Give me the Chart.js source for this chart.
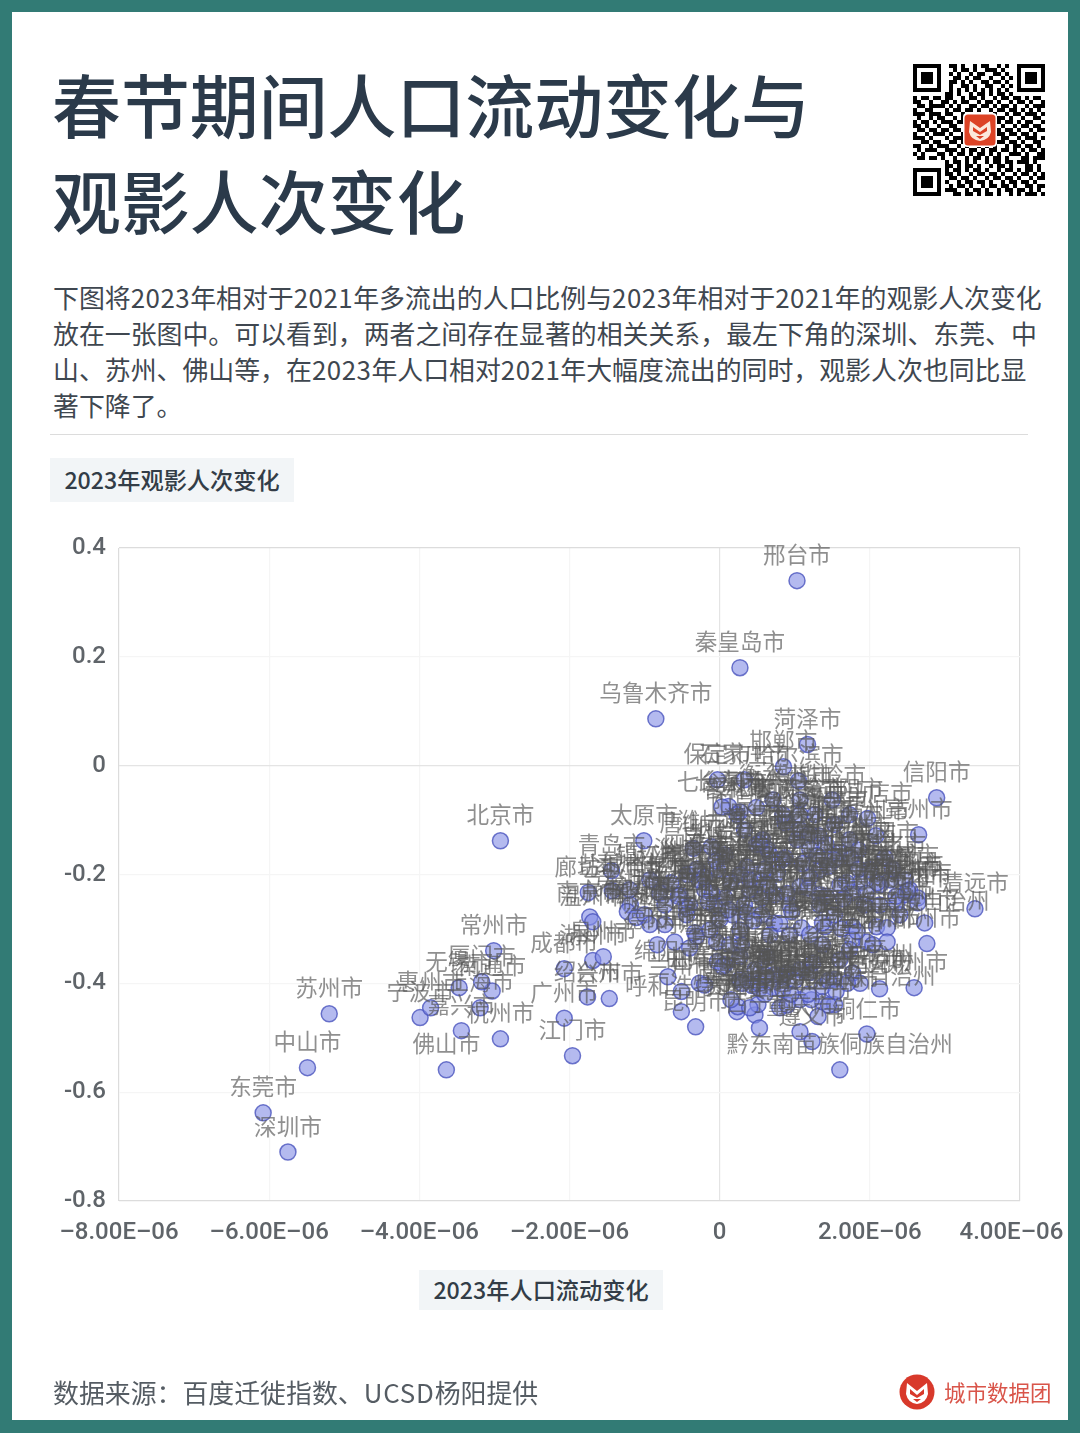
<!DOCTYPE html>
<html lang="zh">
<head>
<meta charset="utf-8">
<title>春节期间人口流动变化与观影人次变化</title>
<script src="https://cdn.jsdelivr.net/npm/chart.js@4/dist/chart.umd.min.js"></script>
<style>
html,body{margin:0;padding:0;background:#327b75;}
body{width:1080px;height:1433px;position:relative;overflow:hidden;font-family:"Noto Sans CJK SC","Noto Sans",sans-serif;}
#panel{position:absolute;left:12px;top:12px;width:1056px;height:1408px;background:#fff;}
.abs{position:absolute;white-space:nowrap;}
.title{left:52px;font-size:68.9px;line-height:96px;color:#2b3a4a;font-weight:500;}
.body{left:53px;font-size:25.9px;line-height:36px;color:#3f4750;}
.num{letter-spacing:.5px;}
.tag{background:#f2f5f7;color:#333d47;font-size:23.2px;font-weight:500;text-align:center;}
#rule{left:50px;top:434px;width:978px;height:1px;background:#dcdcdc;}
#chartWrap{position:absolute;left:0;top:0;width:1080px;height:1433px;}
</style>
</head>
<body>
<div id="panel"></div>
<div class="abs title" style="top:55px">春节期间人口流动变化与</div>
<div class="abs title" style="top:151px">观影人次变化</div>
<div class="abs body" style="top:279px">下图将<span class="num">2023</span>年相对于<span class="num">2021</span>年多流出的人口比例与<span class="num">2023</span>年相对于<span class="num">2021</span>年的观影人次变化</div>
<div class="abs body" style="top:315px">放在一张图中。可以看到，两者之间存在显著的相关关系，最左下角的深圳、东莞、中</div>
<div class="abs body" style="top:351px">山、苏州、佛山等，在<span class="num">2023</span>年人口相对<span class="num">2021</span>年大幅度流出的同时，观影人次也同比显</div>
<div class="abs body" style="top:387px">著下降了。</div>
<div class="abs" id="rule"></div>
<div class="abs tag" style="left:50px;top:458px;width:244px;height:44px;line-height:43px">2023年观影人次变化</div>
<div id="chartWrap"><canvas id="c" width="1080" height="1433"></canvas></div>
<div class="abs tag" style="left:419px;top:1270px;width:244px;height:40px;line-height:39px">2023年人口流动变化</div>
<div class="abs body" style="top:1374px;color:#555c63">数据来源：百度迁徙指数、<span style="letter-spacing:.8px">UCSD</span>杨阳提供</div>
<svg class="abs" style="left:899px;top:1374px" width="36" height="36" viewBox="0 0 36 36">
  <circle cx="18" cy="18" r="17.5" fill="#d8392b"/>
  <path d="M8 9 L18 17 L28 9 L29 20 Q27 29 18 30 Q9 29 7 20 Z" fill="#fff"/>
  <path d="M11 15 L18 21 L25 15 L25 20 L18 24 L11 20 Z M14 25 H22 L18 28 Z" fill="#d8392b"/>
</svg>
<div class="abs" style="left:944px;top:1377px;font-size:21.5px;line-height:30px;color:#d9554a">城市数据团</div>
<svg class="abs" id="qr" style="left:913px;top:64px" width="132" height="132" viewBox="0 0 33 33" shape-rendering="crispEdges"></svg>
<svg class="abs" style="left:963px;top:113px" width="34" height="34" viewBox="0 0 34 34">
  <rect x="0" y="0" width="34" height="34" rx="4" fill="#fff"/>
  <rect x="1.5" y="1.5" width="31" height="31" rx="3.5" fill="#dc4326"/>
  <path d="M7 8 L17 15 L27 8 L28 19 Q26 27 17 28 Q8 27 6 19 Z" fill="#fbe9dc"/>
  <path d="M10 14 L17 19 L24 14 L24 18 L17 22 L10 18 Z M13 23 H21 L17 26 Z" fill="#dc4326"/>
</svg>
<script>
const cities = [
"深圳市","东莞市","中山市","苏州市","佛山市","杭州市","嘉兴市","宁波市","惠州市","无锡市",
"上海市","南通市","厦门市","常州市","北京市","成都市","广州市","江门市","绍兴市","台州市",
"湖州市","泉州市","廊坊市","南京市","温州市","青岛市","太原市","乌鲁木齐市","秦皇岛市","邢台市",
"合肥市","淄博市","唐山市","潍坊市","保定市","哈尔滨市","邯郸市","菏泽市","石家庄市","信阳市",
"长春市","七台河市","绥化市","长治市","吉林市","沧州市","衡水市","德州市","聊城市","濮阳市",
"商丘市","周口市","漯河市","开封市","许昌市","安阳市","新乡市","焦作市","鹤壁市","晋城市",
"临汾市","驻马店市","宿州市","亳州市","黄冈市","孝感市","荆州市","襄阳市","咸宁市","运城市",
"大庆市","枣庄市","邵阳市","永州市","怀化市","衡阳市","清远市","阳泉市","泰安市","济宁市",
"临沂市","日照市","烟台市","威海市","东营市","滨州市","蚌埠市","淮南市","徐州市","扬州市",
"镇江市","泰州市","盐城市","淮安市","连云港市","宿迁市","朝阳市","锦州市","盘锦市","营口市",
"丹东市","鞍山市","沈阳市","大连市","抚顺市","本溪市","辽阳市","铁岭市","葫芦岛市","芜湖市",
"马鞍山市","铜陵市","宣城市","九江市","南昌市","景德镇市","上饶市","德阳市","乐山市","内江市",
"自贡市","南充市","遂宁市","宜宾市","泸州市","达州市","广安市","资阳市","眉山市","南宁市",
"桂林市","黔南布依族苗族自治州","湘潭市","株洲市","岳阳市","常德市","益阳市","贺州市","郴州市","柳州市",
"娄底市","吉安市","抚州市","赣州市","宜春市","新余市","鹰潭市","萍乡市","十堰市","随州市",
"鄂州市","黄石市","宜昌市","安庆市","六安市","池州市","滁州市","阜阳市","绵阳市","兰州市",
"呼和浩特市","昆明市","贵阳市","西安市","银川市","西宁市","重庆市","遵义市","毕节市","恩施土家族苗族自治州",
"六盘水市","铜仁市","黔东南苗族侗族自治州","安顺市","曲靖市","玉溪市","昭通市","凉山彝族自治州","攀枝花市","广元市",
"巴中市","雅安市","汉中市","安康市","商洛市","渭南市","宝鸡市","咸阳市","榆林市","延安市",
"荆门市","黄山市","百色市","河池市","贵港市","玉林市","梧州市","钦州市","北海市","茂名市",
"四平市","松原市","白城市","通化市","白山市","辽源市","牡丹江市","佳木斯市","大同市","朔州市",
"忻州市","吕梁市","晋中市","南阳市","平顶山市","三门峡市","洛阳市","济源市","莱芜市","鸡西市",
"鹤岗市","黑河市","齐齐哈尔市","承德市","张家口市","呼伦贝尔市","通辽市","赤峰市","包头市","鄂尔多斯市",
"乌海市","巴彦淖尔市","乌兰察布市","三亚市","海口市","福州市","莆田市","龙岩市","三明市","南平市",
"宁德市","漳州市","汕头市","潮州市","揭阳市","韶关市","河源市","梅州市","汕尾市","阳江市"
];
// 2023 population-flow change, in units of 1E-06
const popChangeMicro = [
-5.75,-6.08,-5.49,-5.20,-3.64,-2.92,-3.44,-3.99,-3.85,-3.47,
-3.19,-3.03,-3.17,-3.01,-2.92,-2.07,-2.07,-1.96,-1.76,-1.47,
-1.69,-1.55,-1.75,-1.73,-1.69,-1.44,-1.01,-0.85,0.27,1.03,
-0.80,-0.43,-0.35,-0.11,-0.03,1.05,0.85,1.17,0.33,2.89,
0.12,0.03,0.27,0.49,0.23,0.87,0.71,1.07,0.84,1.32,
1.03,0.57,0.49,0.64,0.53,0.87,1.59,1.53,0.83,0.36,
0.77,1.97,2.08,2.65,2.20,2.47,1.87,1.77,1.69,1.07,
0.07,0.56,2.53,2.64,2.64,2.36,3.40,0.33,1.27,1.53,
1.73,1.20,0.07,0.27,0.53,1.33,2.00,1.60,-0.20,-0.53,
-0.93,-1.20,-1.43,-0.03,-0.40,-0.27,0.40,0.73,1.33,2.13,
0.93,0.33,-0.07,-0.73,0.67,1.07,1.73,1.50,1.07,-1.19,
-1.23,-1.11,-1.00,-0.44,-0.44,-0.33,-0.31,-0.83,-0.60,-0.40,
-0.04,0.17,0.36,0.56,0.73,0.96,1.09,1.40,1.77,1.77,
1.96,2.09,2.23,2.23,2.04,1.83,1.77,2.73,2.76,2.59,
0.29,-0.03,0.07,0.27,0.63,1.37,1.37,1.24,1.60,1.07,
0.89,0.83,0.27,0.43,0.71,0.84,1.37,0.04,-0.69,-0.51,
-0.51,-0.32,0.23,0.47,0.51,0.53,1.07,1.23,1.31,1.37,
1.53,1.96,1.60,0.24,-0.27,0.47,0.80,1.53,1.87,2.13,
-0.20,0.53,1.07,0.67,0.27,-0.13,1.53,1.93,-0.93,-0.73,
0.13,0.93,1.73,2.40,2.47,2.13,2.27,1.33,0.00,0.73,
-0.30,-0.65,-0.05,2.30,2.50,-0.55,-0.20,1.20,1.42,1.85,
-0.10,2.10,1.10,1.30,1.45,1.75,0.60,2.35,1.20,1.85,
0.15,0.40,0.65,0.90,1.18,1.42,1.65,1.95,-0.15,0.12,
0.45,0.80,1.20,1.62,0.30,0.52,0.90,1.22,1.45,0.15,
0.40,0.62,1.00,1.20,1.45,1.70,0.95,1.18,0.60,1.55
];
// 2023 cinema-admissions change
const movieChange = [
-0.710,-0.638,-0.555,-0.456,-0.559,-0.502,-0.487,-0.463,-0.445,-0.408,
-0.445,-0.414,-0.397,-0.340,-0.138,-0.373,-0.464,-0.533,-0.425,-0.428,
-0.358,-0.351,-0.233,-0.278,-0.287,-0.193,-0.138,0.086,0.180,0.340,
-0.234,-0.200,-0.152,-0.149,-0.026,-0.028,-0.002,0.039,-0.026,-0.059,
-0.075,-0.076,-0.085,-0.077,-0.090,-0.105,-0.063,-0.063,-0.090,-0.129,
-0.136,-0.136,-0.145,-0.154,-0.142,-0.169,-0.160,-0.173,-0.173,-0.186,
-0.197,-0.097,-0.129,-0.127,-0.169,-0.210,-0.215,-0.233,-0.215,-0.222,
-0.243,-0.243,-0.228,-0.243,-0.252,-0.252,-0.263,-0.118,-0.090,-0.108,
-0.136,-0.154,-0.164,-0.200,-0.210,-0.191,-0.191,-0.219,-0.228,-0.237,
-0.210,-0.228,-0.230,-0.191,-0.256,-0.210,-0.228,-0.237,-0.237,-0.219,
-0.256,-0.256,-0.256,-0.256,-0.164,-0.118,-0.090,-0.063,-0.090,-0.256,
-0.268,-0.279,-0.274,-0.261,-0.274,-0.307,-0.314,-0.329,-0.324,-0.335,
-0.324,-0.274,-0.270,-0.274,-0.289,-0.268,-0.298,-0.296,-0.296,-0.320,
-0.324,-0.296,-0.298,-0.324,-0.329,-0.305,-0.381,-0.289,-0.327,-0.408,
-0.329,-0.360,-0.366,-0.351,-0.351,-0.329,-0.289,-0.362,-0.357,-0.375,
-0.381,-0.388,-0.393,-0.404,-0.408,-0.412,-0.406,-0.369,-0.388,-0.415,
-0.452,-0.480,-0.452,-0.458,-0.439,-0.482,-0.489,-0.507,-0.461,-0.434,
-0.439,-0.493,-0.559,-0.443,-0.400,-0.375,-0.445,-0.393,-0.400,-0.410,
-0.403,-0.410,-0.430,-0.311,-0.302,-0.302,-0.274,-0.256,-0.292,-0.292,
-0.329,-0.311,-0.338,-0.274,-0.237,-0.256,-0.210,-0.256,-0.283,-0.384,
-0.190,-0.215,-0.175,-0.190,-0.230,-0.240,-0.205,-0.125,-0.145,-0.155,
-0.235,-0.215,-0.180,-0.165,-0.185,-0.170,-0.190,-0.240,-0.205,-0.190,
-0.215,-0.210,-0.220,-0.235,-0.225,-0.240,-0.245,-0.235,-0.250,-0.265,
-0.285,-0.290,-0.310,-0.300,-0.400,-0.400,-0.440,-0.430,-0.440,-0.430,
-0.445,-0.385,-0.395,-0.380,-0.395,-0.400,-0.420,-0.420,-0.420,-0.415
];
const xTickLabels = ["–8.00E–06","–6.00E–06","–4.00E–06","–2.00E–06","0","2.00E–06","4.00E–06\u2002\u2009"];
const yTickLabels = ["-0.8","-0.6","-0.4","-0.2","0","0.2","0.4"];

// QR code decoration
const qrMid = [
"0110100101100101010","0010110100111010010","0101001011001101000","0011010110010010110",
"0110101001101101010","0100110100110010100","0101010101010101010"];
const qrRows = [
"000000001101001011010110100000000","101101101100101101001011011010110","110010011010110010110100101101001",
"011011110101001101101011010010111","100110001011011010010110110101010","111011101100100000001001011011101",
"010010110010100000000110100100110","101101011101100000000101101011001","110100100110000000001010010110110",
"011011011011000000001101101001011","100101110100100000000110110110100","111010001011100000001011001011101",
"001101100110101101010110110100110","110010111001010010101001011011010","010111001110101101011011010101101",
"101000110101101011010100111010011","011011010010010110101101000110111","000000001011010100101101101110100",
"000000001101011010010110100011010"];
const qrLow = [
"01011010110100101101011010","01101001011011010010110101","00110110100101101101001011","01001011011010010110110100",
"00101101001011011010011011","01110010110100101101101010","00011011010110100101011101"];
const finder = ["1111111","1000001","1011101","1011101","1011101","1000001","1111111"];
const qrAll = [];
for(let i=0;i<7;i++) qrAll.push(finder[i]+"0"+qrMid[i].slice(0,17)+"0"+finder[i]);
qrRows.forEach(r=>qrAll.push(r));
for(let i=0;i<7;i++) qrAll.push(finder[i]+qrLow[i]);
let qrSvg='';
qrAll.forEach((row,y)=>{ for(let x=0;x<row.length;x++) if(row[x]==='1') qrSvg+=`<rect x="${x}" y="${y}" width="1" height="1"/>`; });
document.getElementById('qr').innerHTML=qrSvg;

const cityLabels = {
  id:'cityLabels',
  afterDatasetsDraw(chart){
    const ctx=chart.ctx, pts=chart.getDatasetMeta(0).data;
    ctx.save();
    ctx.font='22.6px "Noto Sans CJK SC"';
    ctx.textAlign='center';
    ctx.textBaseline='middle';
    ctx.fillStyle='rgba(85,85,85,0.66)';
    pts.forEach((p,i)=>ctx.fillText(cities[i],p.x,p.y-26));
    ctx.restore();
  }
};

const gridColor = ctx => {
  const v = ctx.tick.value, s = ctx.scale;
  if (Math.abs(v) < 1e-9) return '#e4e4e4';
  if (Math.abs(v - s.min) < 1e-9 || Math.abs(v - s.max) < 1e-9) return '#dcdcdc';
  return '#f5f5f5';
};
new Chart(document.getElementById('c'),{
  type:'scatter',
  data:{datasets:[{
    data:popChangeMicro.map((x,i)=>({x,y:movieChange[i]})),
    pointRadius:8,
    pointBorderWidth:1.5,
    backgroundColor:'rgba(130,140,228,0.6)',
    borderColor:'rgba(75,85,190,0.8)'
  }]},
  options:{
    responsive:false,
    animation:false,
    devicePixelRatio:1,
    clip:false,
    layout:{padding:{left:0,top:548,right:60,bottom:182}},
    plugins:{legend:{display:false},tooltip:{enabled:false}},
    scales:{
      x:{type:'linear',min:-8,max:4,
        afterFit:s=>{s.height=50;s.paddingLeft=0;s.paddingRight=0;},
        border:{display:false},
        grid:{color:gridColor,lineWidth:1.2,drawTicks:false},
        ticks:{stepSize:2,padding:18,maxRotation:0,autoSkip:false,color:'#5f6469',
          font:{family:'Roboto',size:24,weight:'500'},
          callback:(v,i)=>xTickLabels[i]}
      },
      y:{type:'linear',min:-0.8,max:0.4,
        afterFit:s=>{s.width=119;s.paddingTop=0;s.paddingBottom=0;},
        border:{display:false},
        grid:{color:gridColor,lineWidth:1.2,drawTicks:false},
        ticks:{stepSize:0.2,padding:13,autoSkip:false,color:'#5f6469',
          font:{family:'Roboto',size:24,weight:'500'},
          callback:(v,i)=>yTickLabels[i]}
      }
    }
  },
  plugins:[cityLabels]
});
</script>
</body>
</html>
